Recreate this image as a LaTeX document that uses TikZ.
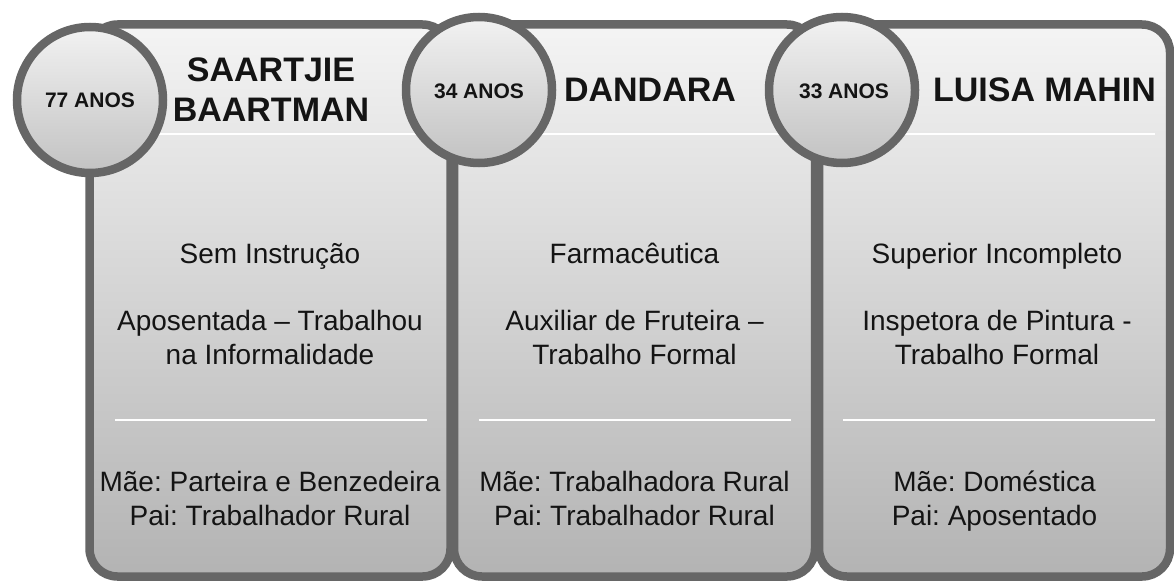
\documentclass[tikz,border=0pt]{standalone}
\usepackage{fontspec}
\setmainfont{Liberation Sans}
\frenchspacing
\definecolor{edgegray}{HTML}{666666}
\definecolor{cardtop}{HTML}{F4F4F4}
\definecolor{cardbot}{HTML}{B3B3B3}
\definecolor{circtop}{HTML}{F2F2F2}
\definecolor{circbot}{HTML}{C2C2C2}
\definecolor{ink}{HTML}{141414}
\begin{document}
\begin{tikzpicture}[x=1pt,y=-1pt,
  card/.style={draw=edgegray, line width=8.5pt, rounded corners=28pt,
    top color=cardtop, bottom color=cardbot, minimum height=552pt, inner sep=0pt},
  agecirc/.style={circle, draw=edgegray, line width=8.5pt, top color=circtop,
    bottom color=circbot, minimum size=146pt, inner sep=0pt},
  agetext/.style={anchor=base, text=ink, inner sep=0pt, font=\fontsize{21}{25}\selectfont\bfseries},
  title/.style={anchor=base, text=ink, inner sep=0pt, font=\fontsize{34}{40}\selectfont\bfseries},
  body/.style={anchor=base, text=ink, inner sep=0pt, font=\fontsize{28}{35}\selectfont},
  sep/.style={draw=white, line width=2pt}]
\useasboundingbox (0,0) rectangle (1174,583);
% cards
\node[card, minimum width=361pt] (c1) at (270,300.5) {};
\node[card, minimum width=361pt] (c2) at (634.5,300.5) {};
\node[card, minimum width=351pt] (c3) at (994.5,300.5) {};
% separators
\draw[sep] (115,134) -- (427,134);
\draw[sep] (479,134) -- (791,134);
\draw[sep] (843,134) -- (1155,134);
\draw[sep] (115,420) -- (427,420);
\draw[sep] (479,420) -- (791,420);
\draw[sep] (843,420) -- (1155,420);
% circles
\node[agecirc] (a1) at (90,100) {};
\node[agecirc] (a2) at (479,90) {};
\node[agecirc] (a3) at (842,90) {};
\node[agetext] (t1) at (90,108) {77 ANOS};
\node[agetext] (t2) at (479,98.3) {34 ANOS};
\node[agetext] (t3) at (844,98.3) {33 ANOS};
% titles
\node[title] (n1a) at (271,81.7) {SAARTJIE};
\node[title] (n1b) at (271,121.7) {BAARTMAN};
\node[title] (n2) at (650,101.7) {DANDARA};
\node[title] (n3) at (1044.5,101.7) {LUISA MAHIN};
% card 1 text
\node[body] (e1) at (270,263.3) {Sem Instrução};
\node[body] (w1a) at (270,330) {Aposentada – Trabalhou};
\node[body] (w1b) at (270,364.5) {na Informalidade};
\node[body] (p1a) at (270,491) {Mãe: Parteira e Benzedeira};
\node[body] (p1b) at (270,525.7) {Pai: Trabalhador Rural};
% card 2 text
\node[body] (e2) at (634.5,263.3) {Farmacêutica};
\node[body] (w2a) at (634.5,330) {Auxiliar de Fruteira –};
\node[body] (w2b) at (634.5,364.5) {Trabalho Formal};
\node[body] (p2a) at (634.5,491) {Mãe: Trabalhadora Rural};
\node[body] (p2b) at (634.5,525.7) {Pai: Trabalhador Rural};
% card 3 text
\node[body] (e3) at (997,263.3) {Superior Incompleto};
\node[body] (w3a) at (997,330) {Inspetora de Pintura -};
\node[body] (w3b) at (997,364.5) {Trabalho Formal};
\node[body] (p3a) at (994.5,491) {Mãe: Doméstica};
\node[body] (p3b) at (994.5,525.7) {Pai: Aposentado};
\end{tikzpicture}
\end{document}
